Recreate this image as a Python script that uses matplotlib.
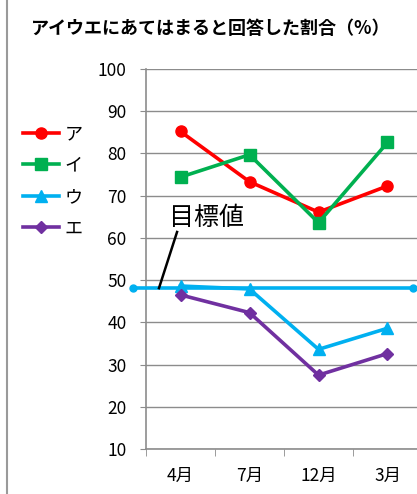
import matplotlib.pyplot as plt
from matplotlib.lines import Line2D

plt.rcParams['font.family'] = ['Noto Sans CJK JP', 'DejaVu Sans']

months = ['4月', '7月', '12月', '3月']
series_names = ['ア', 'イ', 'ウ', 'エ']
val_a = [85.2, 73.3, 66.1, 72.3]
val_i = [74.4, 79.7, 63.6, 82.6]
val_u = [48.6, 47.9, 33.6, 38.6]
val_e = [46.5, 42.3, 27.5, 32.6]
target = 48.1

colors = ['#FF0000', '#00B050', '#00B0F0', '#7030A0']
markers = ['o', 's', '^', 'D']
msizes = [8, 8, 8.5, 6.5]

fig = plt.figure(figsize=(4.17, 4.94), dpi=100)
ax = fig.add_axes([146 / 417, 45 / 494, 276 / 417, 380 / 494])

x = list(range(len(months)))
ax.set_xlim(-0.5, len(months) - 0.5)
ax.set_ylim(10, 100)

# 目標値の横線（軸の外まで延ばす）
ax.plot([-0.69, 3.37], [target, target], color='#00B0F0', lw=2.6,
        marker='o', ms=5, clip_on=False, zorder=3)

handles = []
for vals, name, c, m, s in zip([val_a, val_i, val_u, val_e], series_names,
                               colors, markers, msizes):
    h, = ax.plot(x, vals, color=c, lw=2.6, marker=m, ms=s, label=name,
                 zorder=4)
    handles.append(h)

ax.set_yticks(range(10, 101, 10))
ax.grid(axis='y', color='#8c8c8c', lw=1)
ax.set_axisbelow(True)
ax.tick_params(axis='y', length=4, color='#8c8c8c', labelsize=12.5, pad=10)
ax.set_xticks(x)
ax.set_xticklabels(months, fontsize=12.5)
ax.tick_params(axis='x', length=0, pad=13)
# 区切りの目盛り
ax.set_xticks([i - 0.5 for i in range(len(months) + 1)], minor=True)
ax.tick_params(axis='x', which='minor', length=5, color='#8c8c8c')

for sp in ['top', 'right']:
    ax.spines[sp].set_visible(False)
for sp in ['left', 'bottom']:
    ax.spines[sp].set_color('#8c8c8c')
    ax.spines[sp].set_linewidth(1.2)

# 目標値ラベルと引き出し線
ax.text(-0.16, 64.6, '目標値', fontsize=18, ha='left', va='center')
ax.plot([-0.312, -0.05], [target, 61.4], color='black', lw=1.8,
        clip_on=False, zorder=5)

fig.legend(handles=handles, loc='upper left', bbox_to_anchor=(0.016, 0.78),
           frameon=False, fontsize=13, handlelength=2.0, handletextpad=0.3,
           labelspacing=0.75)

fig.text(0.505, 0.943, 'アイウエにあてはまると回答した割合（%）',
         ha='center', va='center', fontsize=13, fontweight='bold')

fig.add_artist(Line2D([7 / 417, 7 / 417], [0, 1], color='#9a9a9a', lw=1.5))

fig.savefig('out.png', dpi=100)
